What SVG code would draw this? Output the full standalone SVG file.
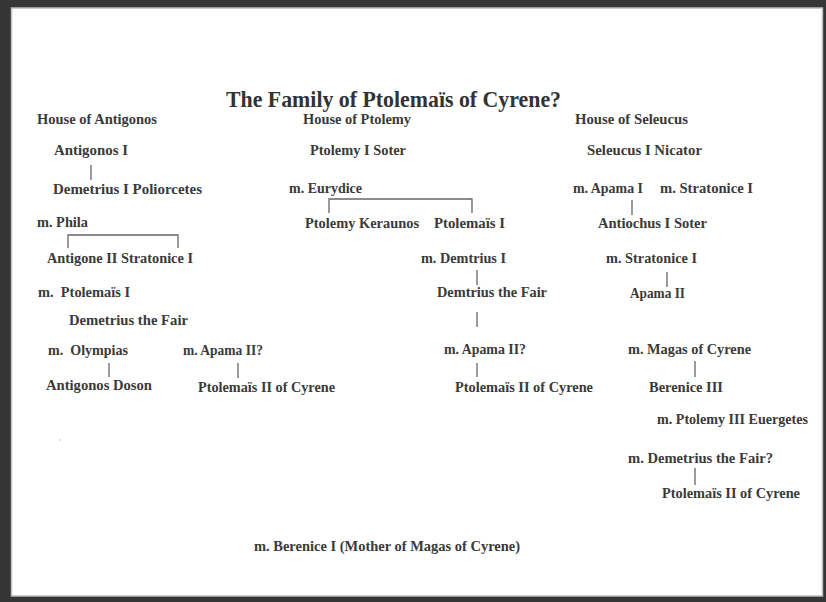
<svg xmlns="http://www.w3.org/2000/svg" width="826" height="602" viewBox="0 0 826 602">
<style>
.t{font-family:"Liberation Serif","Times New Roman",serif;font-weight:bold;font-size:14px;fill:#3a3a3a;white-space:pre}
.title{font-family:"Liberation Serif","Times New Roman",serif;font-weight:bold;font-size:24px;fill:#333}
.c{fill:none;stroke:#666;stroke-width:1.3}
</style>
<rect x="0" y="0" width="826" height="602" fill="#353535"/>
<rect x="11.5" y="8" width="811" height="588" fill="#ffffff" stroke="#bdbdbd" stroke-width="1.5"/>
<circle cx="60" cy="440" r="1" fill="#d0d0d0"/>
<text id="title" class="title" x="226" y="107" textLength="335" lengthAdjust="spacingAndGlyphs">The Family of Ptolemaïs of Cyrene?</text>
<g id="connectors">
<path class="c" d="M91 165V180"/>
<path class="c" d="M68 248V235H178V248"/>
<path class="c" d="M109 363V377"/>
<path class="c" d="M238 363V378"/>
<path class="c" d="M329 213V199H472V213"/>
<path class="c" d="M477 270V285"/>
<path class="c" d="M477 312V327"/>
<path class="c" d="M477 363V377"/>
<path class="c" d="M632 200V215"/>
<path class="c" d="M667 272V287"/>
<path class="c" d="M695 361V377"/>
<path class="c" d="M695 468V485"/>
</g>
<g id="house-antigonos"><text class="t" x="37" y="124" textLength="120" lengthAdjust="spacingAndGlyphs">House of Antigonos</text></g>
<g id="antigonos-i"><text class="t" x="54" y="155" textLength="74" lengthAdjust="spacingAndGlyphs">Antigonos I</text></g>
<g id="demetrius-i"><text class="t" x="53" y="194" textLength="149" lengthAdjust="spacingAndGlyphs">Demetrius I Poliorcetes</text></g>
<g id="m-phila"><text class="t" x="37" y="227" textLength="51" lengthAdjust="spacingAndGlyphs">m. Phila</text></g>
<g id="antigone-stratonice"><text class="t" x="47" y="263" textLength="146" lengthAdjust="spacingAndGlyphs">Antigone II Stratonice I</text></g>
<g id="m-ptolemais-i-a"><text class="t" x="38" y="297" textLength="92" lengthAdjust="spacingAndGlyphs">m.  Ptolemaïs I</text></g>
<g id="demetrius-fair-a"><text class="t" x="69" y="325" textLength="119" lengthAdjust="spacingAndGlyphs">Demetrius the Fair</text></g>
<g id="m-olympias"><text class="t" x="48" y="355" textLength="80" lengthAdjust="spacingAndGlyphs">m.  Olympias</text></g>
<g id="antigonos-doson"><text class="t" x="46" y="390" textLength="106" lengthAdjust="spacingAndGlyphs">Antigonos Doson</text></g>
<g id="m-apama-ii-a"><text class="t" x="183" y="355" textLength="80" lengthAdjust="spacingAndGlyphs">m. Apama II?</text></g>
<g id="ptolemais-ii-a"><text class="t" x="198" y="392" textLength="137" lengthAdjust="spacingAndGlyphs">Ptolemaïs II of Cyrene</text></g>
<g id="house-ptolemy"><text class="t" x="303" y="124" textLength="108" lengthAdjust="spacingAndGlyphs">House of Ptolemy</text></g>
<g id="ptolemy-i"><text class="t" x="310" y="155" textLength="96" lengthAdjust="spacingAndGlyphs">Ptolemy I Soter</text></g>
<g id="m-eurydice"><text class="t" x="289" y="193" textLength="73" lengthAdjust="spacingAndGlyphs">m. Eurydice</text></g>
<g id="ptolemy-keraunos"><text class="t" x="305" y="228" textLength="114" lengthAdjust="spacingAndGlyphs">Ptolemy Keraunos</text></g>
<g id="ptolemais-i"><text class="t" x="434" y="228" textLength="71" lengthAdjust="spacingAndGlyphs">Ptolemaïs I</text></g>
<g id="m-demtrius-i"><text class="t" x="421" y="263" textLength="85" lengthAdjust="spacingAndGlyphs">m. Demtrius I</text></g>
<g id="demtrius-fair"><text class="t" x="437" y="297" textLength="110" lengthAdjust="spacingAndGlyphs">Demtrius the Fair</text></g>
<g id="m-apama-ii-b"><text class="t" x="444" y="354" textLength="82" lengthAdjust="spacingAndGlyphs">m. Apama II?</text></g>
<g id="ptolemais-ii-b"><text class="t" x="455" y="392" textLength="138" lengthAdjust="spacingAndGlyphs">Ptolemaïs II of Cyrene</text></g>
<g id="house-seleucus"><text class="t" x="575" y="124" textLength="113" lengthAdjust="spacingAndGlyphs">House of Seleucus</text></g>
<g id="seleucus-i"><text class="t" x="587" y="155" textLength="115" lengthAdjust="spacingAndGlyphs">Seleucus I Nicator</text></g>
<g id="m-apama-i"><text class="t" x="573" y="193" textLength="70" lengthAdjust="spacingAndGlyphs">m. Apama I</text></g>
<g id="m-stratonice-i-a"><text class="t" x="660" y="193" textLength="93" lengthAdjust="spacingAndGlyphs">m. Stratonice I</text></g>
<g id="antiochus-i"><text class="t" x="598" y="228" textLength="109" lengthAdjust="spacingAndGlyphs">Antiochus I Soter</text></g>
<g id="m-stratonice-i-b"><text class="t" x="606" y="263" textLength="91" lengthAdjust="spacingAndGlyphs">m. Stratonice I</text></g>
<g id="apama-ii"><text class="t" x="630" y="298" textLength="55" lengthAdjust="spacingAndGlyphs">Apama II</text></g>
<g id="m-magas"><text class="t" x="628" y="354" textLength="123" lengthAdjust="spacingAndGlyphs">m. Magas of Cyrene</text></g>
<g id="berenice-iii"><text class="t" x="649" y="392" textLength="74" lengthAdjust="spacingAndGlyphs">Berenice III</text></g>
<g id="m-ptolemy-iii"><text class="t" x="657" y="424" textLength="151" lengthAdjust="spacingAndGlyphs">m. Ptolemy III Euergetes</text></g>
<g id="m-demetrius-fair"><text class="t" x="628" y="463" textLength="145" lengthAdjust="spacingAndGlyphs">m. Demetrius the Fair?</text></g>
<g id="ptolemais-ii-c"><text class="t" x="662" y="498" textLength="138" lengthAdjust="spacingAndGlyphs">Ptolemaïs II of Cyrene</text></g>
<g id="m-berenice-i"><text class="t" x="254" y="551" textLength="266" lengthAdjust="spacingAndGlyphs">m. Berenice I (Mother of Magas of Cyrene)</text></g>
</svg>
